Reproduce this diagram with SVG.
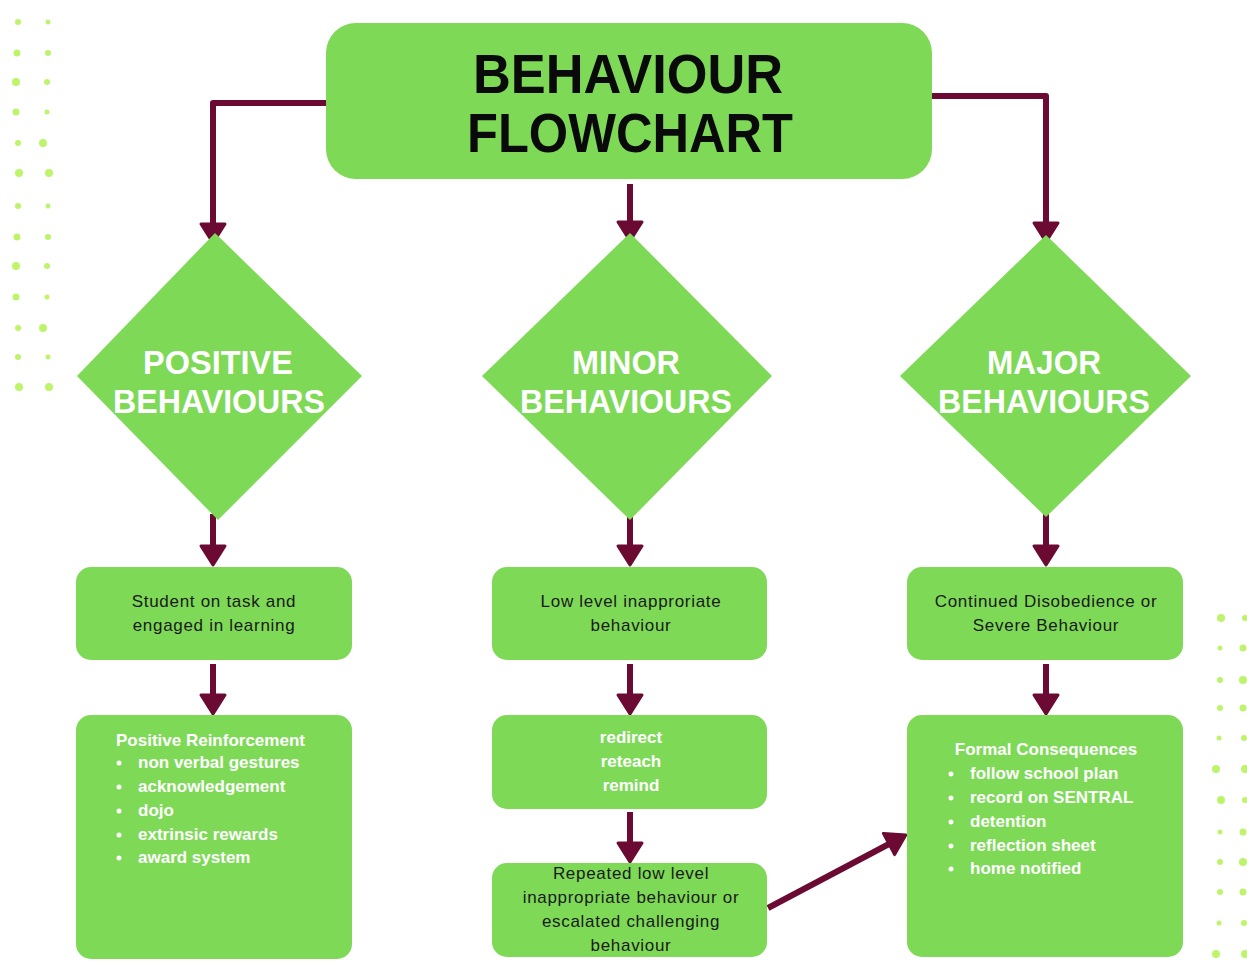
<svg xmlns="http://www.w3.org/2000/svg" width="1247" height="976" viewBox="0 0 1247 976">
<style>
.node{fill:#7ed957}
.dot{fill:#bdf46c}
.con{fill:none;stroke:#6b0a33;stroke-width:6;stroke-linejoin:round}
.title{font-family:"Liberation Sans",Arial,sans-serif;font-weight:bold;font-size:56px;fill:#0a0a0a;text-anchor:middle}
.dia{font-family:"Liberation Sans",Arial,sans-serif;font-weight:bold;font-size:34px;fill:#ffffff;text-anchor:middle}
.dark{font-family:"Liberation Sans",Arial,sans-serif;font-size:17px;letter-spacing:0.7px;fill:#1a1a1a;text-anchor:middle}
.white{font-family:"Liberation Sans",Arial,sans-serif;font-weight:bold;font-size:17px;fill:#ffffff}
.wc{text-anchor:middle}
</style>
<defs>
<marker id="ah" markerUnits="userSpaceOnUse" markerWidth="30" markerHeight="30" viewBox="-2 -15 24 30" refX="0" refY="0" orient="auto" overflow="visible">
<path d="M0,-12 L19,0 L0,12 z" fill="#6b0a33" stroke="#6b0a33" stroke-width="3" stroke-linejoin="round"/>
</marker>
</defs>
<rect width="1247" height="976" fill="#ffffff"/>
<g id="dots-left">
<circle class="dot" cx="18" cy="22" r="3"/><circle class="dot" cx="48" cy="22" r="2.5"/>
<circle class="dot" cx="17" cy="53" r="3.5"/><circle class="dot" cx="48" cy="53" r="3"/>
<circle class="dot" cx="16" cy="82" r="4"/><circle class="dot" cx="47" cy="82" r="3"/>
<circle class="dot" cx="16" cy="112" r="3.5"/><circle class="dot" cx="47" cy="112" r="2.5"/>
<circle class="dot" cx="18" cy="143" r="3"/><circle class="dot" cx="43" cy="143" r="4"/>
<circle class="dot" cx="19" cy="173" r="4"/><circle class="dot" cx="49" cy="173" r="4"/>
<circle class="dot" cx="18" cy="206" r="3"/><circle class="dot" cx="48" cy="206" r="2.5"/>
<circle class="dot" cx="17" cy="237" r="3.5"/><circle class="dot" cx="48" cy="237" r="3"/>
<circle class="dot" cx="16" cy="266" r="4"/><circle class="dot" cx="47" cy="266" r="3"/>
<circle class="dot" cx="16" cy="297" r="3.5"/><circle class="dot" cx="47" cy="297" r="2.5"/>
<circle class="dot" cx="18" cy="328" r="3"/><circle class="dot" cx="43" cy="328" r="4"/>
<circle class="dot" cx="18" cy="357" r="3"/><circle class="dot" cx="48" cy="357" r="2.5"/>
<circle class="dot" cx="19" cy="387" r="4"/><circle class="dot" cx="49" cy="387" r="4"/>
</g>
<g id="dots-right">
<circle class="dot" cx="1221" cy="618" r="4"/><circle class="dot" cx="1245" cy="618" r="3"/>
<circle class="dot" cx="1220" cy="648" r="2.5"/><circle class="dot" cx="1243" cy="648" r="3.5"/>
<circle class="dot" cx="1220" cy="680" r="3"/><circle class="dot" cx="1243" cy="680" r="4"/>
<circle class="dot" cx="1220" cy="708" r="3"/><circle class="dot" cx="1243" cy="708" r="3.5"/>
<circle class="dot" cx="1219" cy="738" r="2.5"/><circle class="dot" cx="1244" cy="738" r="3"/>
<circle class="dot" cx="1216" cy="769" r="4"/><circle class="dot" cx="1245" cy="769" r="4"/>
<circle class="dot" cx="1221" cy="800" r="4"/><circle class="dot" cx="1245" cy="800" r="3"/>
<circle class="dot" cx="1220" cy="832" r="2.5"/><circle class="dot" cx="1243" cy="832" r="3.5"/>
<circle class="dot" cx="1220" cy="862" r="3"/><circle class="dot" cx="1243" cy="862" r="4"/>
<circle class="dot" cx="1220" cy="892" r="3"/><circle class="dot" cx="1243" cy="892" r="3.5"/>
<circle class="dot" cx="1219" cy="923" r="2.5"/><circle class="dot" cx="1244" cy="923" r="3"/>
<circle class="dot" cx="1216" cy="954" r="4"/><circle class="dot" cx="1245" cy="954" r="4"/>
</g>
<g id="connectors">
<path class="con" d="M328,103 H213 V224" marker-end="url(#ah)"/>
<path class="con" d="M630,184 V222" marker-end="url(#ah)"/>
<path class="con" d="M930,96 H1046 V223" marker-end="url(#ah)"/>
<path class="con" d="M213,514 V546" marker-end="url(#ah)"/>
<path class="con" d="M630,514 V546" marker-end="url(#ah)"/>
<path class="con" d="M1046,514 V546" marker-end="url(#ah)"/>
<path class="con" d="M213,664 V695" marker-end="url(#ah)"/>
<path class="con" d="M630,664 V695" marker-end="url(#ah)"/>
<path class="con" d="M1046,664 V695" marker-end="url(#ah)"/>
<path class="con" d="M630,812 V843" marker-end="url(#ah)"/>
<path class="con" d="M768,908 L889,844" marker-end="url(#ah)"/>
</g>
<g id="title">
<rect class="node" x="326" y="23" width="606" height="156" rx="30"/>
<text class="title" x="628" y="93" textLength="310" lengthAdjust="spacingAndGlyphs">BEHAVIOUR</text>
<text class="title" x="630" y="152" textLength="326" lengthAdjust="spacingAndGlyphs">FLOWCHART</text>
</g>
<g id="positive">
<polygon class="node" points="215,233 362,376 218,520 77,376"/>
<text class="dia" x="218" y="374" textLength="150" lengthAdjust="spacingAndGlyphs">POSITIVE</text>
<text class="dia" x="219" y="413" textLength="212" lengthAdjust="spacingAndGlyphs">BEHAVIOURS</text>
</g>
<g id="minor">
<polygon class="node" points="630,233 772,376 630,520 482,376"/>
<text class="dia" x="626" y="374" textLength="108" lengthAdjust="spacingAndGlyphs">MINOR</text>
<text class="dia" x="626" y="413" textLength="212" lengthAdjust="spacingAndGlyphs">BEHAVIOURS</text>
</g>
<g id="major">
<polygon class="node" points="1046,235 1191,376 1046,517 900,376"/>
<text class="dia" x="1044" y="374" textLength="114" lengthAdjust="spacingAndGlyphs">MAJOR</text>
<text class="dia" x="1044" y="413" textLength="212" lengthAdjust="spacingAndGlyphs">BEHAVIOURS</text>
</g>
<g id="student-on-task">
<rect class="node" x="76" y="567" width="276" height="93" rx="15"/>
<text class="dark" x="214" y="607">Student on task and</text>
<text class="dark" x="214" y="631">engaged in learning</text>
</g>
<g id="positive-reinforcement">
<rect class="node" x="76" y="715" width="276" height="244" rx="15"/>
<text class="white" x="116" y="746">Positive Reinforcement</text>
<circle cx="119" cy="763" r="2.5" fill="#fff"/><text class="white" x="138" y="768">non verbal gestures</text>
<circle cx="119" cy="787" r="2.5" fill="#fff"/><text class="white" x="138" y="792">acknowledgement</text>
<circle cx="119" cy="811" r="2.5" fill="#fff"/><text class="white" x="138" y="816">dojo</text>
<circle cx="119" cy="835" r="2.5" fill="#fff"/><text class="white" x="138" y="840">extrinsic rewards</text>
<circle cx="119" cy="858" r="2.5" fill="#fff"/><text class="white" x="138" y="863">award system</text>
</g>
<g id="low-level">
<rect class="node" x="492" y="567" width="275" height="93" rx="15"/>
<text class="dark" x="631" y="607">Low level inapproriate</text>
<text class="dark" x="631" y="631">behaviour</text>
</g>
<g id="redirect">
<rect class="node" x="492" y="715" width="275" height="94" rx="15"/>
<text class="white wc" x="631" y="743">redirect</text>
<text class="white wc" x="631" y="767">reteach</text>
<text class="white wc" x="631" y="791">remind</text>
</g>
<g id="repeated">
<rect class="node" x="492" y="863" width="275" height="94" rx="15"/>
<text class="dark" x="631" y="879">Repeated low level</text>
<text class="dark" x="631" y="903">inappropriate behaviour or</text>
<text class="dark" x="631" y="927">escalated challenging</text>
<text class="dark" x="631" y="951">behaviour</text>
</g>
<g id="continued">
<rect class="node" x="907" y="567" width="276" height="93" rx="15"/>
<text class="dark" x="1046" y="607">Continued Disobedience or</text>
<text class="dark" x="1046" y="631">Severe Behaviour</text>
</g>
<g id="formal-consequences">
<rect class="node" x="907" y="715" width="276" height="242" rx="15"/>
<text class="white wc" x="1046" y="755">Formal Consequences</text>
<circle cx="951" cy="774" r="2.5" fill="#fff"/><text class="white" x="970" y="779">follow school plan</text>
<circle cx="951" cy="798" r="2.5" fill="#fff"/><text class="white" x="970" y="803">record on SENTRAL</text>
<circle cx="951" cy="822" r="2.5" fill="#fff"/><text class="white" x="970" y="827">detention</text>
<circle cx="951" cy="846" r="2.5" fill="#fff"/><text class="white" x="970" y="851">reflection sheet</text>
<circle cx="951" cy="869" r="2.5" fill="#fff"/><text class="white" x="970" y="874">home notified</text>
</g>
</svg>
